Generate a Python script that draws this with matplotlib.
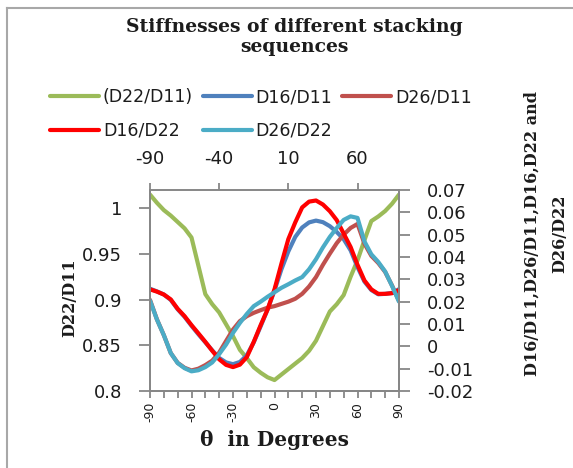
import matplotlib

matplotlib.use("Agg")
import matplotlib.pyplot as plt
from matplotlib.lines import Line2D

plt.rcParams["axes.unicode_minus"] = False

# ply angle in degrees
angles = list(range(-90, 91, 5))

d22_d11 = [1.015, 1.006, 0.998, 0.992, 0.985, 0.978, 0.968, 0.937, 0.906, 0.895,
           0.886, 0.873, 0.860, 0.845, 0.836, 0.826, 0.820, 0.815, 0.812, 0.818,
           0.824, 0.830, 0.836, 0.844, 0.855, 0.871, 0.887, 0.895, 0.905, 0.925,
           0.943, 0.965, 0.986, 0.991, 0.997, 1.005, 1.015]

d16_d11 = [0.0258, 0.0246, 0.0232, 0.0208, 0.0166, 0.0132, 0.0092, 0.0054, 0.0018, -0.0018,
           -0.0052, -0.0072, -0.0080, -0.0070, -0.0040, 0.0018, 0.0090, 0.0165, 0.0250, 0.0345,
           0.0425, 0.0490, 0.0532, 0.0555, 0.0563, 0.0556, 0.0538, 0.0512, 0.0480, 0.0430,
           0.0355, 0.0290, 0.0252, 0.0233, 0.0235, 0.0239, 0.0256]

d26_d11 = [0.0208, 0.0121, 0.0050, -0.0030, -0.0074, -0.0096, -0.0108, -0.0100, -0.0084, -0.0064,
           -0.0028, 0.0024, 0.0075, 0.0113, 0.0135, 0.0150, 0.0162, 0.0173, 0.0180, 0.0190,
           0.0200, 0.0213, 0.0235, 0.0268, 0.0310, 0.0365, 0.0415, 0.0462, 0.0500, 0.0530,
           0.0548, 0.0460, 0.0405, 0.0373, 0.0333, 0.0272, 0.0203]

d16_d22 = [0.0255, 0.0245, 0.0232, 0.0210, 0.0168, 0.0135, 0.0095, 0.0058, 0.0020, -0.0020,
           -0.0058, -0.0083, -0.0093, -0.0082, -0.0048, 0.0020, 0.0095, 0.0165, 0.0255, 0.0370,
           0.0480, 0.0555, 0.0622, 0.0648, 0.0653, 0.0635, 0.0605, 0.0565, 0.0505, 0.0445,
           0.0365, 0.0295, 0.0255, 0.0235, 0.0235, 0.0238, 0.0252]

d26_d22 = [0.0205, 0.0120, 0.0050, -0.0030, -0.0075, -0.0098, -0.0112, -0.0107, -0.0093, -0.0072,
           -0.0035, 0.0008, 0.0060, 0.0105, 0.0145, 0.0180, 0.0200, 0.0222, 0.0242, 0.0262,
           0.0278, 0.0295, 0.0310, 0.0345, 0.0390, 0.0443, 0.0490, 0.0530, 0.0566, 0.0582,
           0.0575, 0.0470, 0.0412, 0.0378, 0.0335, 0.0270, 0.0200]

bottom_ticks = [-90, -60, -30, 0, 30, 60, 90]
bottom_labels = ["-90", "-60", "-30", "0", "30", "60", "90"]
top_ticks = [-90, -40, 10, 60]
top_labels = ["-90", "-40", "10", "60"]
left_ticks = [0.8, 0.85, 0.9, 0.95, 1.0]
left_labels = ["0.8", "0.85", "0.9", "0.95", "1"]
right_ticks = [-0.02, -0.01, 0, 0.01, 0.02, 0.03, 0.04, 0.05, 0.06, 0.07]
right_labels = ["-0.02", "-0.01", "0", "0.01", "0.02", "0.03", "0.04", "0.05", "0.06", "0.07"]

GREEN = "#9BBB59"
BLUE = "#4F81BD"
BROWN = "#C0504D"
RED = "#FF0000"
CYAN = "#4BACC6"
SPINE = "#878787"
TEXT = "#1c1c1c"
SERIF = "DejaVu Serif"

W, H = 573, 468
fig = plt.figure(figsize=(W / 100, H / 100), dpi=100)
ax = fig.add_axes([150 / W, 1 - 391 / H, 249 / W, 201 / H])
ax2 = ax.twinx()

lw = 3.0
(l_green,) = ax.plot(angles, d22_d11, color=GREEN, lw=lw, solid_capstyle="round")
(l_blue,) = ax2.plot(angles, d16_d11, color=BLUE, lw=lw, solid_capstyle="round")
(l_brown,) = ax2.plot(angles, d26_d11, color=BROWN, lw=lw, solid_capstyle="round")
(l_red,) = ax2.plot(angles, d16_d22, color=RED, lw=lw, solid_capstyle="round")
(l_cyan,) = ax2.plot(angles, d26_d22, color=CYAN, lw=lw, solid_capstyle="round")

ax.set_xlim(-90, 90)
ax.set_ylim(0.8, 1.02)
ax2.set_ylim(-0.02, 0.07)

for a in (ax, ax2):
    for side in a.spines:
        a.spines[side].set_color(SPINE)
        a.spines[side].set_linewidth(1.4)
ax.spines["top"].set_visible(False)
ax2.spines["top"].set_visible(False)

ax.set_xticks(bottom_ticks)
ax.set_xticklabels(bottom_labels, rotation=90, fontsize=9, color=TEXT)
ax.set_xticks(range(-90, 91, 10), minor=True)
ax.tick_params(axis="x", which="both", direction="out", length=5, width=1.3,
               color=SPINE, pad=3)

ax.set_yticks(left_ticks)
ax.set_yticklabels(left_labels, fontsize=13, color=TEXT)
ax.tick_params(axis="y", direction="out", length=8, width=1.3, color=SPINE, pad=12)

ax2.set_yticks(right_ticks)
ax2.set_yticklabels(right_labels, fontsize=13, color=TEXT)
ax2.tick_params(axis="y", direction="out", length=8, width=1.3, color=SPINE, pad=12)

top = ax2.secondary_xaxis("top")
top.set_xticks(top_ticks)
top.set_xticklabels(top_labels, fontsize=13, color=TEXT)
top.tick_params(direction="out", length=5, width=1.3, color=SPINE, pad=11)
top.spines["top"].set_color(SPINE)
top.spines["top"].set_linewidth(1.4)

# legend filled column by column, so order handles to read row by row
handles = [l_green, l_red, l_blue, l_cyan, l_brown]
labels = ["(D22/D11)", "D16/D22", "D16/D11", "D26/D22", "D26/D11"]
fig.legend(handles, labels, loc="upper left", bbox_to_anchor=(50 / W, 1 - 88 / H),
           ncol=3, frameon=False, fontsize=12.5, handlelength=2.85, handletextpad=0.2,
           columnspacing=0.55, labelspacing=0.9, borderpad=0, borderaxespad=0,
           labelcolor=TEXT)

fig.text(294 / W, 1 - 37 / H, "Stiffnesses of different stacking\nsequences",
         ha="center", va="center", fontsize=13.5, fontweight="bold", family=SERIF,
         color=TEXT, linespacing=1.2)
fig.text(275 / W, 1 - 440 / H, "θ  in Degrees", ha="center", va="center",
         fontsize=14.5, fontweight="bold", family=SERIF, color=TEXT)
fig.text(70 / W, 1 - 298 / H, "D22/D11", ha="center", va="center", rotation=90,
         fontsize=11.5, fontweight="bold", family=SERIF, color=TEXT)
fig.text(546 / W, 1 - 234 / H, "D16/D11,D26/D11,D16,D22 and\nD26/D22", ha="center",
         va="center", rotation=90, multialignment="center", fontsize=11.5,
         fontweight="bold", family=SERIF, color=TEXT, linespacing=1.85)

# outer chart frame (only left and top edges fall inside the picture)
fig.add_artist(Line2D([7 / W, 7 / W], [0, 1 - 8 / H], transform=fig.transFigure,
                      color="#a8a8a8", lw=1.5))
fig.add_artist(Line2D([7 / W, 1], [1 - 8 / H, 1 - 8 / H], transform=fig.transFigure,
                      color="#a8a8a8", lw=1.5))

fig.savefig("out.png", dpi=100, facecolor="white")
